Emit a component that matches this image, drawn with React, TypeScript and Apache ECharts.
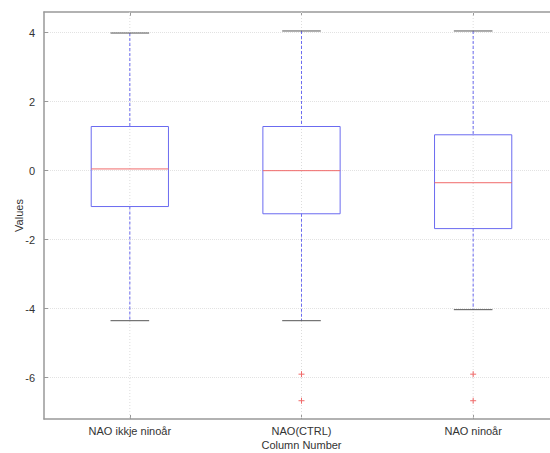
import React, { useEffect, useRef } from "react";
import * as echarts from "echarts";

const categories = ["NAO ikkje ninoår", "NAO(CTRL)", "NAO ninoår"];
const lowerWhisker = [-4.35, -4.35, -4.03];
const q1 = [-1.04, -1.25, -1.68];
const median = [0.05, 0.0, -0.35];
const q3 = [1.28, 1.28, 1.04];
const upperWhisker = [3.99, 4.05, 4.05];
const outlierCategory = [1, 1, 2, 2];
const outlierValue = [-5.9, -6.67, -5.9, -6.67];
const yTicks = [-6, -4, -2, 0, 2, 4];

const FONT = "Liberation Sans, Arial, sans-serif";

export default function App() {
  const ref = useRef<HTMLDivElement>(null);
  useEffect(() => {
    if (!ref.current) return;
    const chart = echarts.init(ref.current, null, { renderer: "svg" });
    const boxData = categories.map((_, i) => [
      i,
      lowerWhisker[i],
      q1[i],
      median[i],
      q3[i],
      upperWhisker[i],
    ]);
    const outData = outlierCategory.map((c, i) => [c, outlierValue[i]]);
    chart.setOption({
      animation: false,
      grid: {
        left: 44,
        right: 41,
        top: 12,
        bottom: 34,
        show: false,
        outerBoundsMode: "none",
      },
      xAxis: [
        {
          type: "category",
          data: categories,
          boundaryGap: true,
          name: "Column Number",
          nameLocation: "middle",
          nameGap: 20,
          nameMoveOverlap: false,
          nameTextStyle: { fontFamily: FONT, fontSize: 11, color: "#333" },
          axisLine: { show: true, onZero: false, lineStyle: { color: "#999", width: 1.5 } },
          axisTick: { show: true, inside: true, alignWithLabel: true, length: 4, lineStyle: { color: "#999" } },
          axisLabel: { fontFamily: FONT, fontSize: 11, color: "#333", margin: 6 },
          splitLine: { show: false },
        },
        {
          type: "category",
          data: categories,
          position: "top",
          boundaryGap: true,
          axisLine: { show: true, onZero: false, lineStyle: { color: "#999", width: 1.5 } },
          axisTick: { show: true, inside: true, alignWithLabel: true, length: 4, lineStyle: { color: "#999" } },
          axisLabel: { show: false },
          splitLine: { show: false },
        },
      ],
      yAxis: {
        type: "value",
        min: -7.2,
        max: 4.6,
        name: "Values",
        nameLocation: "middle",
        nameGap: 20,
        nameMoveOverlap: false,
        nameTextStyle: { fontFamily: FONT, fontSize: 11, color: "#333" },
        axisLine: { show: true, lineStyle: { color: "#999", width: 1.5 } },
        axisTick: { show: true, inside: true, length: 4, customValues: yTicks, lineStyle: { color: "#999" } },
        axisLabel: { customValues: yTicks, fontFamily: FONT, fontSize: 11, color: "#333", margin: 9 },
        splitLine: { show: true, lineStyle: { color: "#e2e2e2", type: "dotted", width: 1 } },
      },
      series: [
        {
          type: "custom",
          data: boxData,
          renderItem: (params: any, api: any) => {
            const idx = api.value(0);
            const cs = params.coordSys;
            const band = api.size([1, 0])[0];
            const bw = band * 0.45;
            const cw = band * 0.225;
            const pLw = api.coord([idx, api.value(1)]);
            const pQ1 = api.coord([idx, api.value(2)]);
            const pMed = api.coord([idx, api.value(3)]);
            const pQ3 = api.coord([idx, api.value(4)]);
            const pUw = api.coord([idx, api.value(5)]);
            const cx = pMed[0];
            const blue = "#6b6bf0";
            return {
              type: "group",
              children: [
                {
                  type: "line",
                  shape: { x1: cx, y1: cs.y, x2: cx, y2: cs.y + cs.height },
                  style: { stroke: "#dcdcdc", lineWidth: 1, lineDash: [1, 2] },
                },
                {
                  type: "line",
                  shape: { x1: cx, y1: pUw[1], x2: cx, y2: pQ3[1] },
                  style: { stroke: blue, lineWidth: 1, lineDash: [3, 2] },
                },
                {
                  type: "line",
                  shape: { x1: cx, y1: pQ1[1], x2: cx, y2: pLw[1] },
                  style: { stroke: blue, lineWidth: 1, lineDash: [3, 2] },
                },
                {
                  type: "line",
                  shape: { x1: cx - cw / 2, y1: pUw[1], x2: cx + cw / 2, y2: pUw[1] },
                  style: { stroke: "#555", lineWidth: 1 },
                },
                {
                  type: "line",
                  shape: { x1: cx - cw / 2, y1: pLw[1], x2: cx + cw / 2, y2: pLw[1] },
                  style: { stroke: "#555", lineWidth: 1 },
                },
                {
                  type: "rect",
                  shape: { x: cx - bw / 2, y: pQ3[1], width: bw, height: pQ1[1] - pQ3[1] },
                  style: { fill: "none", stroke: blue, lineWidth: 1 },
                },
                {
                  type: "line",
                  shape: { x1: cx - bw / 2, y1: pMed[1], x2: cx + bw / 2, y2: pMed[1] },
                  style: { stroke: "#f06a6a", lineWidth: 1 },
                },
              ],
            };
          },
        },
        {
          type: "custom",
          data: outData,
          renderItem: (params: any, api: any) => {
            const p = api.coord([api.value(0), api.value(1)]);
            const s = 3;
            return {
              type: "group",
              children: [
                { type: "line", shape: { x1: p[0] - s, y1: p[1], x2: p[0] + s, y2: p[1] }, style: { stroke: "#f06a6a", lineWidth: 1 } },
                { type: "line", shape: { x1: p[0], y1: p[1] - s, x2: p[0], y2: p[1] + s }, style: { stroke: "#f06a6a", lineWidth: 1 } },
              ],
            };
          },
        },
      ],
    });
    return () => chart.dispose();
  }, []);
  return (
    <div style={{ position: "absolute", left: 0, top: 0, width: 550, height: 453, overflow: "hidden", background: "#fff" }}>
      <div ref={ref} style={{ width: 600, height: 453 }} />
    </div>
  );
}
